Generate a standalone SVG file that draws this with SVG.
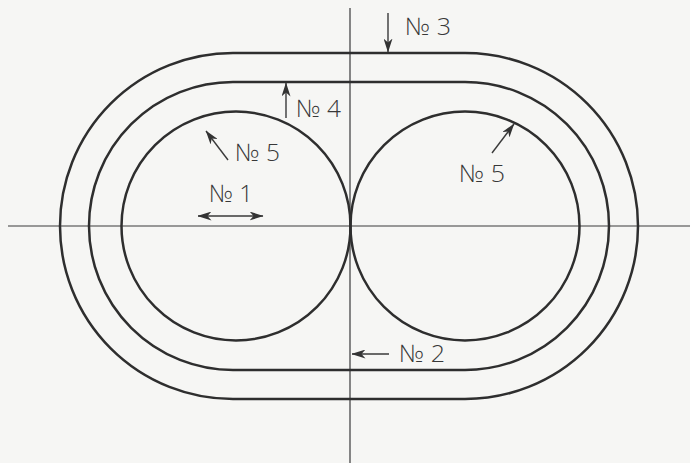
<svg xmlns="http://www.w3.org/2000/svg" width="690" height="463" viewBox="0 0 690 463">
<defs>
<style>
.curve{fill:none;stroke:#2e2e2e;stroke-width:2.5}
.axis{fill:none;stroke:#3a3a3a;stroke-width:1.2}
.arr{fill:none;stroke:#3a3a3a;stroke-width:1.4}
.lbl{font-family:"Open Sans","DejaVu Sans",sans-serif;font-weight:300;font-size:24px;fill:#383838}
</style>
<marker id="ah" viewBox="0 0 14 9" refX="13.5" refY="4.5" markerWidth="14" markerHeight="9" markerUnits="userSpaceOnUse" orient="auto-start-reverse">
<path d="M0,0 L14,4.5 L0,9 L4,4.5 Z" fill="#333"/>
</marker>
</defs>
<rect width="690" height="463" fill="#f6f6f4"/>
<g id="axes">
<line class="axis" x1="8" y1="226" x2="690" y2="226"/>
<line class="axis" x1="350" y1="8" x2="350" y2="463"/>
</g>
<g id="outer-track">
<path class="curve" d="M233,53 L465,53 A173,173 0 0 1 465,399 L233,399 A173,173 0 0 1 233,53 Z"/>
</g>
<g id="middle-track">
<path class="curve" d="M233,82 L465,82 A144,144 0 0 1 465,370 L233,370 A144,144 0 0 1 233,82 Z"/>
</g>
<g id="left-circle">
<circle class="curve" cx="236" cy="226" r="114.5"/>
</g>
<g id="right-circle">
<circle class="curve" cx="465" cy="226" r="114.5"/>
</g>
<g id="connectors">
<line class="arr" x1="388" y1="13" x2="388" y2="52" marker-end="url(#ah)"/>
<line class="arr" x1="286" y1="118" x2="286" y2="83" marker-end="url(#ah)"/>
<line class="arr" x1="228" y1="160" x2="206" y2="131" marker-end="url(#ah)"/>
<line class="arr" x1="492" y1="153" x2="514" y2="124" marker-end="url(#ah)"/>
<line class="arr" x1="198" y1="216" x2="263" y2="216" marker-start="url(#ah)" marker-end="url(#ah)"/>
<line class="arr" x1="389" y1="354" x2="352" y2="354" marker-end="url(#ah)"/>
</g>
<g id="labels">
<text class="lbl" x="405" y="35" textLength="46" lengthAdjust="spacingAndGlyphs">№ 3</text>
<text class="lbl" x="296" y="117" textLength="45" lengthAdjust="spacingAndGlyphs">№ 4</text>
<text class="lbl" x="235" y="161" textLength="45" lengthAdjust="spacingAndGlyphs">№ 5</text>
<text class="lbl" x="459" y="182" textLength="46" lengthAdjust="spacingAndGlyphs">№ 5</text>
<text class="lbl" x="209" y="202" textLength="44" lengthAdjust="spacingAndGlyphs">№ 1</text>
<text class="lbl" x="399" y="362" textLength="46" lengthAdjust="spacingAndGlyphs">№ 2</text>
</g>
</svg>
